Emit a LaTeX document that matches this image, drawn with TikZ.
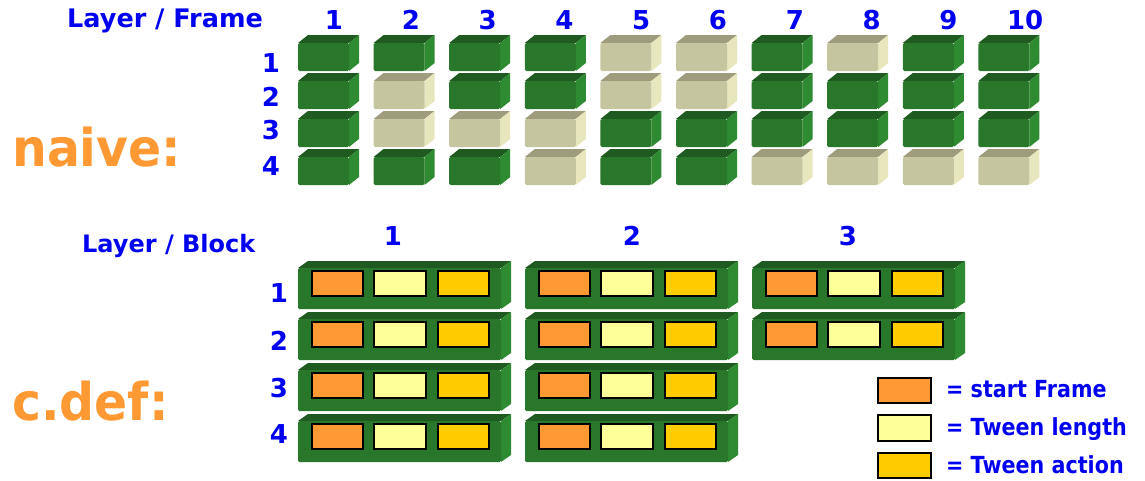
\documentclass[tikz,border=0pt]{standalone}
\usepackage{fontspec}
\setmainfont{DejaVu Sans}
\newfontfamily\bigfont{DejaVu Sans}[FakeStretch=0.94]
\newfontfamily\legfont{DejaVu Sans}[FakeStretch=0.88]
\definecolor{gFront}{HTML}{29772B}
\definecolor{gTop}{HTML}{1F5A20}
\definecolor{gSide}{HTML}{2F8B32}
\definecolor{tFront}{HTML}{C5C5A0}
\definecolor{tTop}{HTML}{9E9C7C}
\definecolor{tSide}{HTML}{E8E6BC}
\definecolor{txtBlue}{HTML}{0000F0}
\definecolor{txtOrange}{HTML}{FF9933}
\definecolor{cStart}{HTML}{FF9933}
\definecolor{cLen}{HTML}{FFFF99}
\definecolor{cAct}{HTML}{FFCC00}
\newcommand\mycube[3]{%
  \fill[#3Top] ({#1},{#2+8}) -- ({#1+10},{#2}) -- ({#1+61},{#2}) -- ({#1+51},{#2+8}) -- cycle;
  \fill[#3Side] ({#1+51},{#2+8}) -- ({#1+61},{#2}) -- ({#1+61},{#2+28}) -- ({#1+51},{#2+36}) -- cycle;
  \fill[#3Front,rounded corners=1.5] ({#1},{#2+8}) rectangle ({#1+51},{#2+36});
}
\newcommand\myblock[2]{%
  \fill[gTop] ({#1},{#2+7}) -- ({#1+10},{#2}) -- ({#1+213},{#2}) -- ({#1+203},{#2+7}) -- cycle;
  \fill[gSide] ({#1+203},{#2+7}) -- ({#1+213},{#2}) -- ({#1+213},{#2+41}) -- ({#1+203},{#2+48}) -- cycle;
  \fill[gFront,rounded corners=1.5] ({#1},{#2+7}) rectangle ({#1+203},{#2+48});
  \draw[cellbox,fill=cStart] ({#1+14},{#2+10}) rectangle ({#1+65},{#2+35});
  \draw[cellbox,fill=cLen] ({#1+76},{#2+10}) rectangle ({#1+128},{#2+35});
  \draw[cellbox,fill=cAct] ({#1+140},{#2+10}) rectangle ({#1+191},{#2+35});
}
\tikzset{
  cellbox/.style={draw=black,line width=1.6pt},
  lbl/.style={text=txtBlue,font=\fontsize{26}{28}\selectfont\bfseries,inner sep=0pt},
  hdr/.style={text=txtBlue,inner sep=0pt},
  leg/.style={text=txtBlue,font=\legfont\fontsize{23.5}{26}\selectfont\bfseries,inner sep=0pt},
  big/.style={text=txtOrange,font=\bigfont\fontsize{52}{56}\selectfont\bfseries,inner sep=0pt},
}
\begin{document}
\begin{tikzpicture}[x=1pt,y=-1pt]
\useasboundingbox (0,0) rectangle (1145,480);
% naive grid
\foreach \pat [count=\r] in {{G,G,G,G,t,t,G,t,G,G},{G,t,G,G,t,t,G,G,G,G},{G,t,t,t,G,G,G,G,G,G},{G,G,G,t,G,G,t,t,t,t}}{
  \foreach \k [count=\c] in \pat {
    \pgfmathsetmacro\xx{298+75.6*(\c-1)}
    \pgfmathsetmacro\yy{35+38*(\r-1)}
    \if\k G\mycube{\xx}{\yy}{g}\else\mycube{\xx}{\yy}{t}\fi
  }
}
\node[hdr,font=\fontsize{25.5}{28}\selectfont\bfseries,anchor=base west] (hf) at (67,27) {Layer / Frame};
\foreach \c in {1,...,10}{
  \node[lbl,anchor=base] (col\c) at ({334+76.8*(\c-1)},29) {\c};
}
\node[lbl,anchor=base] (r1) at (271,72) {1};
\node[lbl,anchor=base] (r2) at (271,106) {2};
\node[lbl,anchor=base] (r3) at (271,139) {3};
\node[lbl,anchor=base] (r4) at (271,175) {4};
\node[big,anchor=base west] (naive) at (12,166) {naive:};
% c.def blocks
\myblock{298}{261}\myblock{525}{261}\myblock{752}{261}
\myblock{298}{312}\myblock{525}{312}\myblock{752}{312}
\myblock{298}{363}\myblock{525}{363}
\myblock{298}{414}\myblock{525}{414}
\node[hdr,font=\fontsize{24}{26}\selectfont\bfseries,anchor=base west] (hb) at (82,252) {Layer / Block};
\node[lbl,anchor=base] (b1) at (393,245) {1};
\node[lbl,anchor=base] (b2) at (632,245) {2};
\node[lbl,anchor=base] (b3) at (848,245) {3};
\node[lbl,anchor=base] (s1) at (279,302) {1};
\node[lbl,anchor=base] (s2) at (279,350) {2};
\node[lbl,anchor=base] (s3) at (279,397) {3};
\node[lbl,anchor=base] (s4) at (279,443) {4};
\node[big,anchor=base west] (cdef) at (12,420) {c.def:};
% legend
\draw[cellbox,fill=cStart] (878,378) rectangle (931,403);
\draw[cellbox,fill=cLen] (878,415) rectangle (931,441);
\draw[cellbox,fill=cAct] (878,453) rectangle (931,478);
\node[leg,anchor=base west] (l1) at (946,397) {= start Frame};
\node[leg,anchor=base west] (l2) at (946,435) {= Tween length};
\node[leg,anchor=base west] (l3) at (946,473) {= Tween action};
\end{tikzpicture}
\end{document}
